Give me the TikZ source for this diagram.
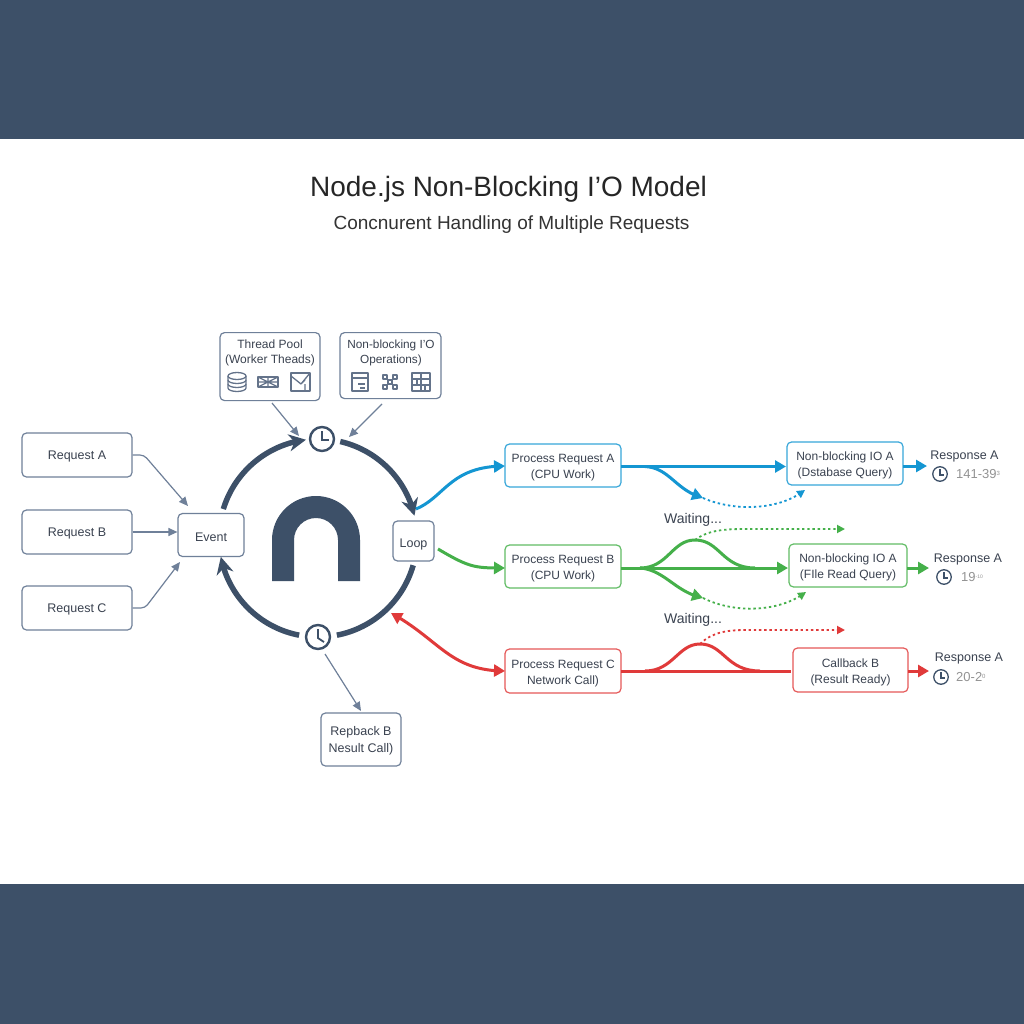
\documentclass[tikz,border=0pt]{standalone}
\usepackage{fontspec}
\setmainfont{Liberation Sans}
\usetikzlibrary{arrows.meta,bending,calc}
\definecolor{band}{HTML}{3D5068}
\definecolor{navy}{HTML}{3D5068}
\definecolor{edge}{HTML}{6F8099}
\definecolor{txt}{HTML}{3A4250}
\definecolor{cblue}{HTML}{1496D2}
\definecolor{cgreen}{HTML}{45B04A}
\definecolor{cred}{HTML}{E03A3A}
\tikzset{
 box/.style={draw=edge,line width=1.2pt,rounded corners=4.5pt,fill=white,align=center,text=txt,font=\fontsize{12.5}{16}\selectfont,inner sep=0pt,execute at begin node={\rule{0pt}{12.5pt}}},
 lowtext/.style={execute at begin node={\rule{0pt}{16pt}}},
 lowertext/.style={execute at begin node={\rule{0pt}{29pt}}},
 pbox/.style={box,lowertext,font=\fontsize{12}{16}\selectfont},
 bluebox/.style={pbox,draw=cblue!85},
 greenbox/.style={pbox,draw=cgreen!85},
 redbox/.style={pbox,draw=cred!85},
 lbl/.style={text=txt,font=\fontsize{12.5}{15}\selectfont,inner sep=0pt},
 num/.style={text=gray!85,font=\fontsize{13}{15}\selectfont,inner sep=0pt,anchor=west},
 clockring/.style={circle,draw=navy,line width=2.4pt,fill=white,minimum size=24pt,inner sep=0pt},
 smallclock/.style={circle,draw=navy,line width=1.3pt,fill=white,minimum size=14.5pt,inner sep=0pt},
 thin arrow/.style={draw=edge,line width=1.2pt,-{Triangle[length=9pt,width=8pt]}},
 ring/.style={draw=navy,line width=5.5pt,line cap=butt},
 ringa/.style={ring,-{Stealth[length=17pt,width=17pt,flex]}},
 solidc/.style={line width=3pt,-{Triangle[length=11pt,width=12pt]}},
 plainc/.style={line width=3pt},
 dotc/.style={line width=1.8pt,dash pattern=on 2.4pt off 2.8pt,-{Triangle[length=8pt,width=8pt]}},
 icon/.style={draw=edge!90!black,line width=1.3pt,line join=round},
}
\begin{document}
\begin{tikzpicture}[x=1pt,y=-1pt]
\useasboundingbox (0,0) rectangle (1024,1024);
\fill[white] (0,0) rectangle (1024,1024);
\fill[band] (0,0) rectangle (1024,139);
\fill[band] (0,884) rectangle (1024,1024);
\node[text=black!85,font=\fontsize{28}{30}\selectfont,inner sep=0pt] (title) at (508.5,189) {Node.js Non-Blocking I’O Model};
\node[text=black!80,font=\fontsize{19}{22}\selectfont,inner sep=0pt] (sub) at (511.5,225) {Concnurent Handling of Multiple Requests};

% left requests
\node[box,minimum width=110pt,minimum height=44pt] (ra) at (77,455) {Request A};
\node[box,minimum width=110pt,minimum height=44pt] (rb) at (77,532) {Request B};
\node[box,minimum width=110pt,minimum height=44pt] (rc) at (77,608) {Request C};
\node[box,minimum width=66pt,minimum height=43pt] (event) at (211,535) {Event};
\node[box,lowtext,minimum width=41pt,minimum height=40pt] (loop) at (413.5,541) {Loop};
\node[box,minimum width=100pt,minimum height=68pt,execute at begin node={},anchor=north] (tp) at (270,332) {};
\node[lbl,align=center,font=\fontsize{12}{15}\selectfont] (tpt) at (270,352.5) {Thread Pool\\(Worker Theads)};
\node[box,minimum width=101pt,minimum height=66pt,execute at begin node={},anchor=north] (nb) at (390.5,332) {};
\node[lbl,align=center,font=\fontsize{11.8}{15}\selectfont] (nbt) at (391,352.5) {Non-blocking I’O\\Operations)};
\node[box,lowertext,font=\fontsize{12.5}{17}\selectfont,minimum width=80pt,minimum height=53pt] (rep) at (361,739.5) {Repback B\\Nesult Call)};

% clocks
\node[clockring] (ck1) at (322,439) {};
\node[clockring] (ck2) at (318,637) {};
\draw[navy,line width=1.8pt] (322,431) -- (322,440) -- (329,440);
\draw[navy,line width=1.8pt] (318,629) -- (318,638) -- (324,642);

% ring
\coordinate (cen) at (318,538);
\begin{scope}[shift={(318,538)},y=1pt]
\coordinate (a1) at (163:99);
\coordinate (a2) at (77:99);
\coordinate (a3) at (-16:99);
\coordinate (a4) at (259:99);
\end{scope}
\draw[ringa] (a1) arc[start angle=163,end angle=97,radius=99pt];
\draw[ringa] (a2) arc[start angle=77,end angle=13,radius=99pt];
\draw[ring] (a3) arc[start angle=-16,end angle=-79,radius=99pt];
\draw[ringa] (a4) arc[start angle=259,end angle=191,radius=99pt];

% logo arch
\fill[navy] (272,581) -- (272,540) arc[start angle=180,end angle=0,radius=44pt] -- (360,581) -- (338,581) -- (338,540) arc[start angle=0,end angle=180,radius=22pt] -- (294,581) -- cycle;

% thin arrows
\draw[thin arrow,rounded corners=4pt] (ra.east) -- (144,455) -- (188,506);
\draw[thin arrow] (rb.east) -- (event.west|-rb.east);
\draw[thin arrow,rounded corners=4pt] (rc.east) -- (145,608) -- (180,562);
\coordinate (tp1) at (272,403); \coordinate (nb1) at (382,404);
\coordinate (tp2) at (299,436); \coordinate (nb2) at (349,437);
\coordinate (ck3) at (325,654); \coordinate (rep1) at (361,711);
\draw[thin arrow] (tp1) -- (tp2);
\draw[thin arrow] (nb1) -- (nb2);
\draw[thin arrow] (ck3) -- (rep1);

% process boxes
\node[bluebox,minimum width=116pt,minimum height=43pt] (pa) at (563,465.5) {Process Request A\\(CPU Work)};
\node[greenbox,minimum width=116pt,minimum height=43pt] (pb) at (563,566.5) {Process Request B\\(CPU Work)};
\node[redbox,minimum width=116pt,minimum height=44pt] (pc) at (563,671) {Process Request C\\Network Call)};
\node[bluebox,minimum width=116pt,minimum height=43pt] (na) at (845,463.5) {Non-blocking IO A\\(Dstabase Query)};
\node[greenbox,minimum width=118pt,minimum height=43pt] (nbb) at (848,565.5) {Non-blocking IO A\\(FIle Read Query)};
\node[redbox,minimum width=115pt,minimum height=44pt] (cb) at (850.5,670) {Callback B\\(Result Ready)};

% loop to process
\coordinate (lb) at (416,509); \coordinate (lg) at (438,549); \coordinate (lr) at (391,613);
\draw[cblue,solidc] (lb) .. controls (445,497) and (450,466) .. (505,466);
\draw[cgreen,solidc] (lg) .. controls (470,568) and (475,568) .. (505,568);
\draw[cred,solidc,{Triangle[length=11pt,width=12pt]}-{Triangle[length=11pt,width=12pt]}] (lr) .. controls (440,640) and (450,671) .. (505,671);

% blue lane
\draw[cblue,solidc] (621,466.5) -- (786,466.5);
\coordinate (bb) at (703,498);
\draw[cblue,solidc] (645,466.5) .. controls (670,468) and (675,490) .. (bb);
\draw[cblue,dotc] (bb) .. controls (735,512) and (780,510) .. (805,490);
\draw[cblue,solidc] (903,466) -- (927,466);

% green lane
\draw[cgreen,solidc] (621,568) -- (788,568);
\coordinate (gt) at (695,540); \coordinate (gb) at (703,598);
\draw[cgreen,plainc] (640,568) .. controls (668,568) and (672,540) .. (gt) .. controls (720,540) and (722,568) .. (755,568);
\draw[cgreen,solidc] (640,568) .. controls (665,570) and (675,592) .. (gb);
\draw[cgreen,dotc] (gb) .. controls (735,614) and (780,612) .. (806,592);
\draw[cgreen,dotc] (gt) .. controls (708,530) and (725,529) .. (746,529) -- (845,529);
\draw[cgreen,solidc] (907,568) -- (929,568);

% red lane
\draw[cred,plainc] (621,671) -- (791,671);
\coordinate (rt) at (700,644);
\draw[cred,plainc] (645,671) .. controls (673,671) and (678,644) .. (rt) .. controls (724,644) and (726,671) .. (760,671);
\draw[cred,dotc] (rt) .. controls (712,632) and (728,630) .. (746,630) -- (845,630);
\draw[cred,solidc] (908,671) -- (929,671);

\node[lbl,text=txt,font=\fontsize{14}{15}\selectfont] (w1) at (693,520) {Waiting...};
\node[lbl,text=txt,font=\fontsize{14}{15}\selectfont] (w2) at (693,620) {Waiting...};

% responses
\node[lbl] (r1) at (964.5,456) {Response A};
\node[lbl] (r2) at (968,559) {Response A};
\node[lbl] (r3) at (969,658) {Response A};
\node[smallclock] (c1) at (940,474) {};
\node[smallclock] (c2) at (944,577) {};
\node[smallclock] (c3) at (941,677) {};
\draw[navy,line width=1.1pt] (940,469) -- (940,475) -- (944,475);
\draw[navy,line width=1.1pt] (944,572) -- (944,578) -- (948,578);
\draw[navy,line width=1.1pt] (941,672) -- (941,678) -- (945,678);
\node[num] (n1) at (956,474.5) {141-39\raisebox{3pt}{\fontsize{6}{6}\selectfont 3}};
\node[num] (n2) at (961,577.5) {19\raisebox{3pt}{\fontsize{5}{5}\selectfont -10}};
\node[num] (n3) at (956,677.5) {20-2\raisebox{3pt}{\fontsize{6}{6}\selectfont 0}};

% icons: thread pool
\begin{scope}[icon]
\draw (228,376) -- (228,388) arc[start angle=180,end angle=360,x radius=9pt,y radius=3.5pt] -- (246,376);
\draw (237,376) ellipse[x radius=9pt,y radius=3.5pt];
\draw (228,380) arc[start angle=180,end angle=360,x radius=9pt,y radius=3.5pt];
\draw (228,384) arc[start angle=180,end angle=360,x radius=9pt,y radius=3.5pt];
\draw (258,377) -- (278,377) -- (278,387) -- (258,387) -- cycle;
\draw (258,377) -- (278,387) (258,387) -- (278,377) (258,382) -- (278,382) (268,377) -- (268,387);
\draw (291,373) rectangle (310,391);
\draw (291,376) -- (301,384) -- (305,380) (305,391) -- (305,384) (310,373) -- (301,384);
% icons: non-blocking
\draw (352,373) rectangle (368,391);
\draw (352,378) -- (368,378) (358,384) -- (365,384) (360,388) -- (365,388);
\draw (383,375) rectangle (387,379) (393,375) rectangle (397,379) (383,385) rectangle (387,389) (393,385) rectangle (397,389) (388,380) rectangle (392,384);
\draw (387,379) -- (388,380) (393,379) -- (392,380) (387,385) -- (388,384) (393,385) -- (392,384);
\draw (412,373) rectangle (430,391);
\draw (412,379) -- (430,379) (412,385) -- (430,385) (421,373) -- (421,391) (417,379) -- (417,385) (425,385) -- (425,391);
\end{scope}
\end{tikzpicture}
\end{document}
